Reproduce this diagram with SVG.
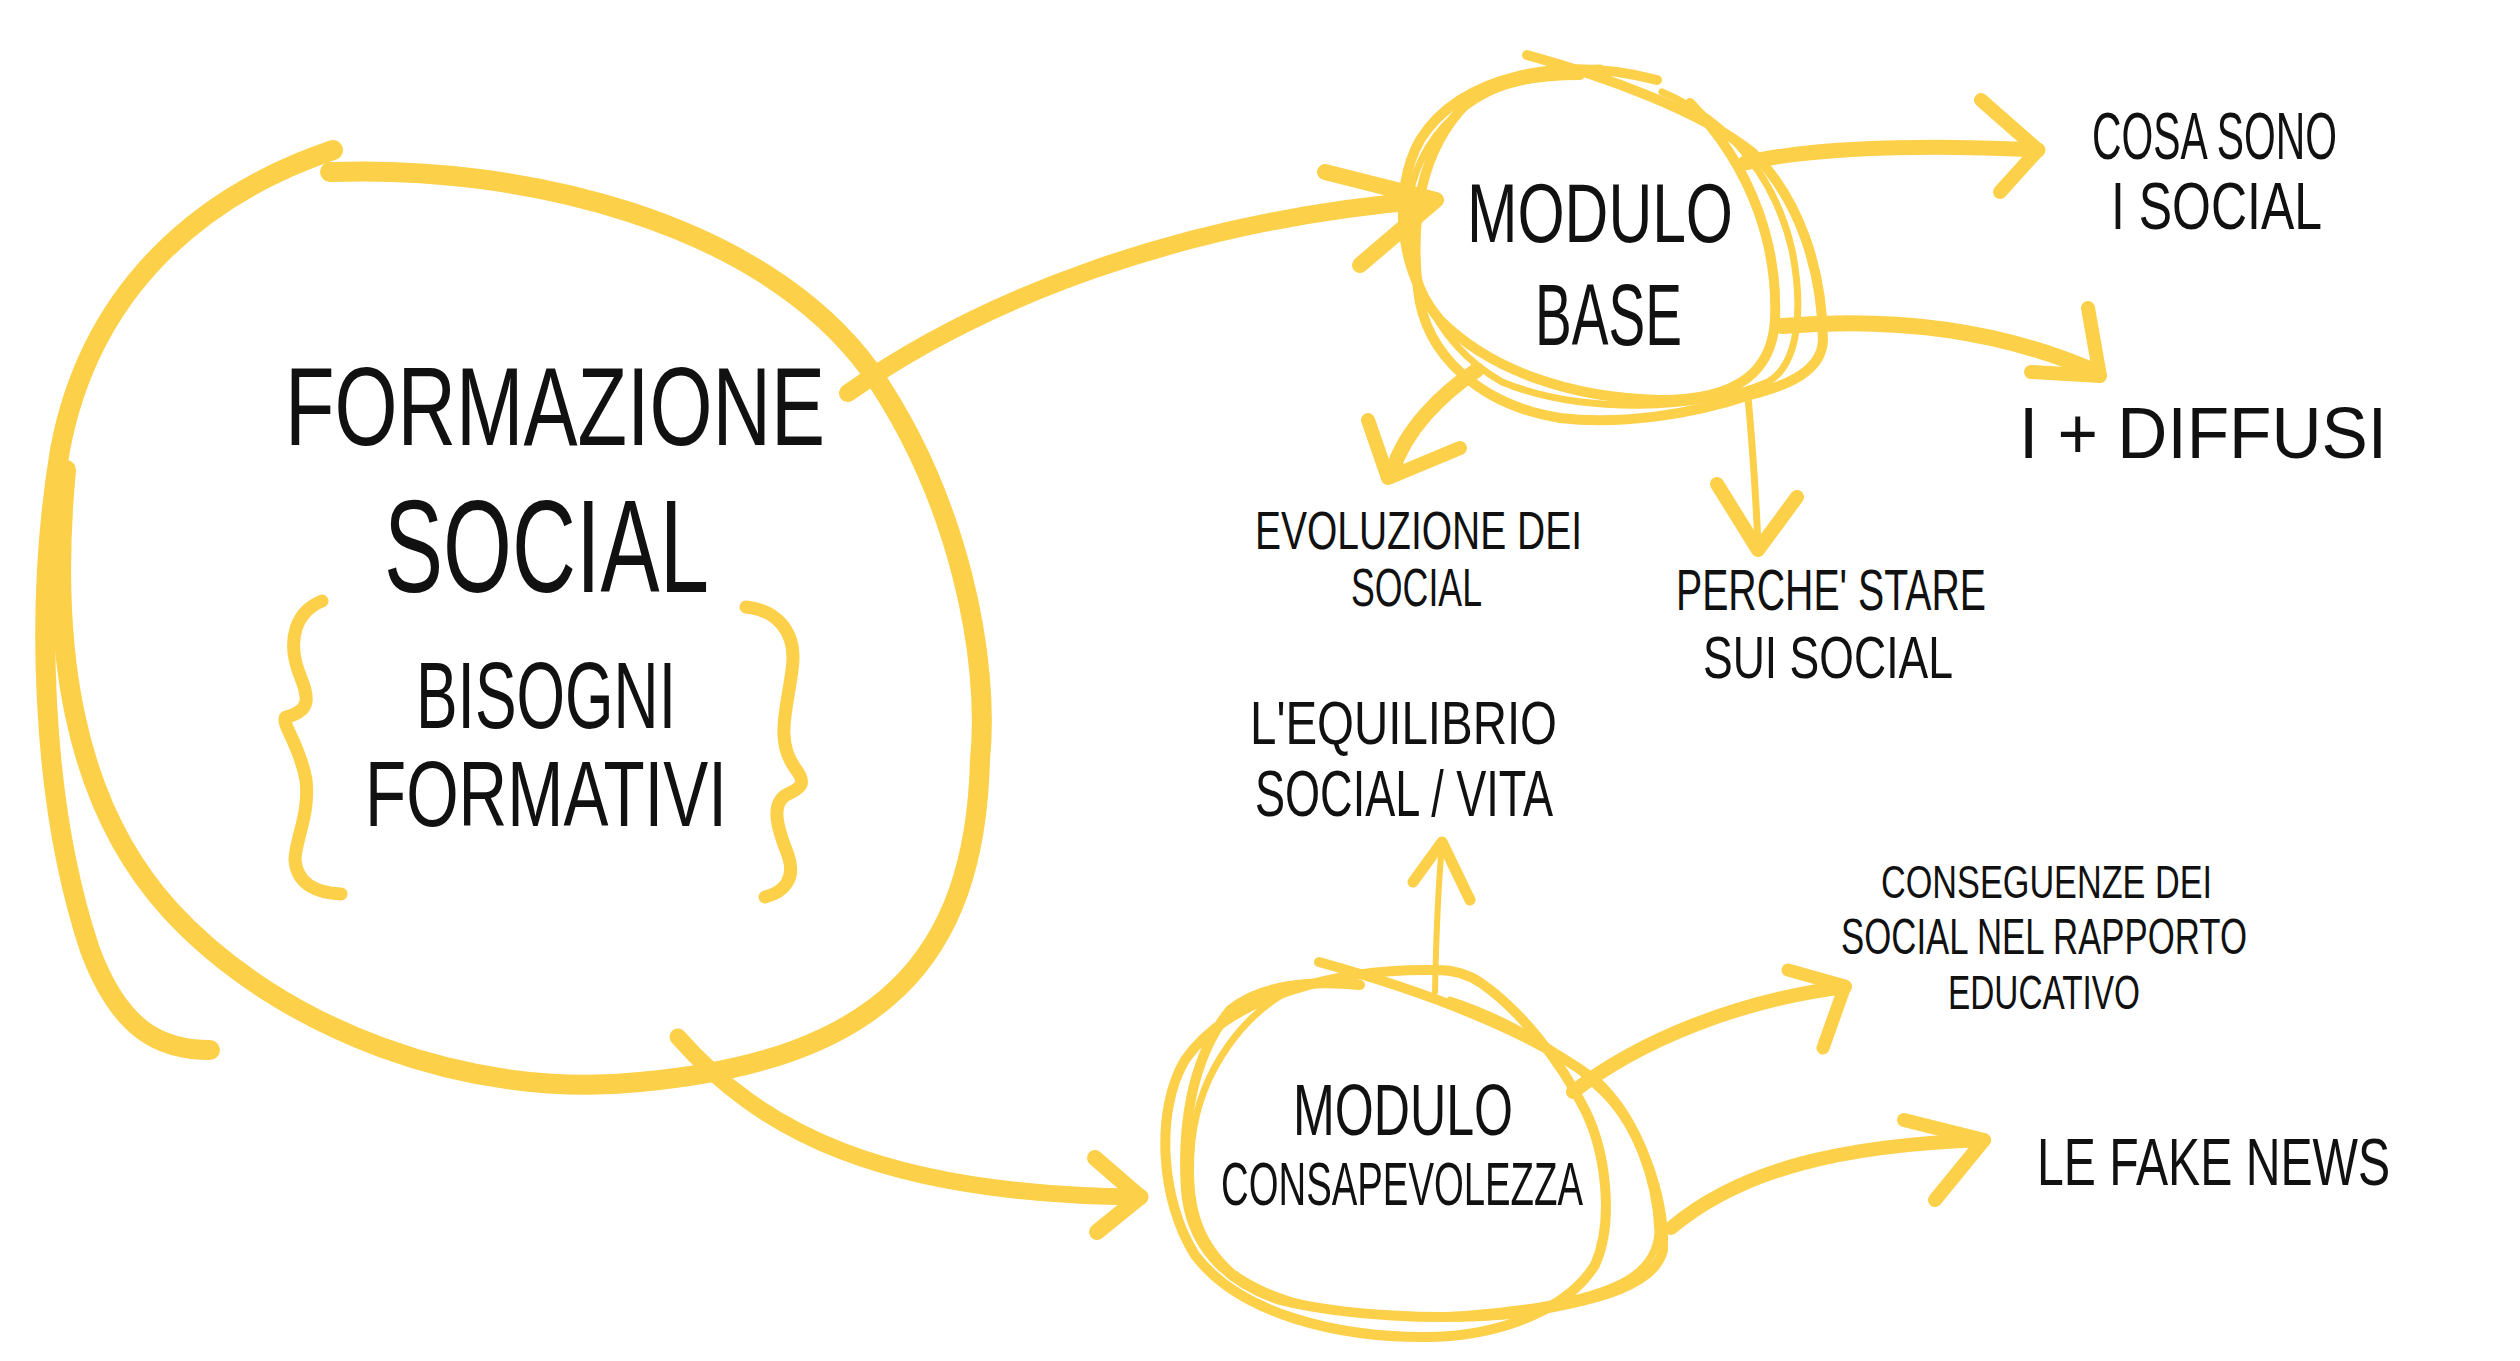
<svg xmlns="http://www.w3.org/2000/svg" width="2520" height="1361" viewBox="0 0 2520 1361">
<style>
.y{fill:none;stroke:#FCD049;stroke-linecap:round;stroke-linejoin:round}
.t{font-family:"Liberation Sans","DejaVu Sans",sans-serif;fill:#111;text-anchor:start}
</style>
<rect width="2520" height="1361" fill="#fff"/>
<g id="formazione-social">
<path class="y" stroke-width="20" d="M333 150 C200 195 90 290 60 450 C35 600 40 800 90 950 C120 1030 160 1050 210 1050"/>
<path class="y" stroke-width="20" d="M330 172 C520 165 760 220 870 370 C960 500 990 660 980 760 C975 960 880 1060 640 1082 C470 1100 280 1030 170 910 C70 800 50 640 66 470"/>
<path class="y" stroke-width="13" d="M322 601 C295 612 288 640 298 670 C306 692 316 710 286 717 C280 722 300 745 306 780 C310 815 295 840 295 860 C297 885 318 893 341 894"/>
<path class="y" stroke-width="13" d="M746 607 C775 610 798 630 792 670 C787 710 775 740 795 768 C808 785 800 788 786 795 C770 805 778 830 788 855 C796 878 785 892 765 897"/>
<text class="t" x="285" y="445" font-size="112" textLength="540" lengthAdjust="spacingAndGlyphs">FORMAZIONE</text>
<text class="t" x="384" y="592" font-size="132" textLength="325" lengthAdjust="spacingAndGlyphs">SOCIAL</text>
<text class="t" x="416" y="728" font-size="95" textLength="260" lengthAdjust="spacingAndGlyphs">BISOGNI</text>
<text class="t" x="365" y="826" font-size="93" textLength="362" lengthAdjust="spacingAndGlyphs">FORMATIVI</text>
</g>
<g id="modulo-base">
<path class="y" stroke-width="10" d="M1657 80 C1560 55 1460 75 1420 140 C1392 190 1398 270 1440 320 C1490 370 1570 398 1660 400 C1740 400 1772 370 1775 320 C1778 250 1755 170 1690 103"/>
<path class="y" stroke-width="10" d="M1527 55 C1600 75 1700 110 1753 153 C1800 200 1822 270 1823 340 C1822 370 1790 385 1750 395 C1690 415 1620 425 1560 418 C1480 405 1425 355 1418 290 C1410 220 1420 150 1467 103 C1500 80 1540 75 1580 75"/>
<path class="y" stroke-width="7" d="M1600 68 C1500 70 1432 112 1412 185 C1398 262 1432 342 1502 382 C1580 414 1700 412 1768 382 C1802 362 1802 300 1792 250 C1776 180 1732 122 1662 92"/>
<text class="t" x="1467" y="242" font-size="84" textLength="266" lengthAdjust="spacingAndGlyphs">MODULO</text>
<text class="t" x="1535" y="345" font-size="87" textLength="147" lengthAdjust="spacingAndGlyphs">BASE</text>
</g>
<g id="modulo-consapevolezza">
<path class="y" stroke-width="10" d="M1437 970 C1340 968 1230 995 1185 1060 C1155 1110 1160 1200 1195 1255 C1240 1315 1340 1338 1430 1337 C1510 1335 1570 1305 1595 1265 C1615 1220 1605 1150 1585 1110 C1560 1060 1520 1010 1481 983 C1465 972 1450 970 1437 970"/>
<path class="y" stroke-width="10" d="M1319 962 C1420 990 1530 1030 1595 1080 C1640 1120 1665 1200 1663 1250 C1655 1285 1600 1300 1520 1313 C1440 1322 1340 1315 1280 1300 C1220 1280 1190 1240 1186 1190 C1182 1130 1190 1060 1230 1010 C1260 985 1310 980 1360 985"/>
<path class="y" stroke-width="7" d="M1300 985 C1245 1010 1200 1070 1192 1140 C1186 1200 1196 1240 1232 1272 C1300 1322 1420 1324 1540 1306 C1620 1292 1656 1272 1658 1232 C1656 1180 1636 1122 1598 1088 C1560 1048 1500 1016 1450 1000"/>
<text class="t" x="1293" y="1135" font-size="73" textLength="220" lengthAdjust="spacingAndGlyphs">MODULO</text>
<text class="t" x="1221" y="1205" font-size="62" textLength="362" lengthAdjust="spacingAndGlyphs">CONSAPEVOLEZZA</text>
</g>
<g id="cosa-sono">
<text class="t" x="2092" y="159" font-size="67" textLength="245" lengthAdjust="spacingAndGlyphs">COSA SONO</text>
<text class="t" x="2111" y="229" font-size="66" textLength="211" lengthAdjust="spacingAndGlyphs">I SOCIAL</text>
</g>
<g id="i-diffusi">
<text class="t" x="2019" y="458" font-size="73" textLength="368" lengthAdjust="spacingAndGlyphs">I + DIFFUSI</text>
</g>
<g id="evoluzione">
<text class="t" x="1255" y="549" font-size="53" textLength="327" lengthAdjust="spacingAndGlyphs">EVOLUZIONE DEI</text>
<text class="t" x="1351" y="606" font-size="54" textLength="131" lengthAdjust="spacingAndGlyphs">SOCIAL</text>
</g>
<g id="perche">
<text class="t" x="1676" y="610" font-size="58" textLength="310" lengthAdjust="spacingAndGlyphs">PERCHE' STARE</text>
<text class="t" x="1703" y="678" font-size="60" textLength="250" lengthAdjust="spacingAndGlyphs">SUI SOCIAL</text>
</g>
<g id="equilibrio">
<text class="t" x="1250" y="744" font-size="62" textLength="307" lengthAdjust="spacingAndGlyphs">L'EQUILIBRIO</text>
<text class="t" x="1255" y="816" font-size="64" textLength="298" lengthAdjust="spacingAndGlyphs">SOCIAL / VITA</text>
</g>
<g id="conseguenze">
<text class="t" x="1881" y="898" font-size="47" textLength="331" lengthAdjust="spacingAndGlyphs">CONSEGUENZE DEI</text>
<text class="t" x="1841" y="954" font-size="50" textLength="406" lengthAdjust="spacingAndGlyphs">SOCIAL NEL RAPPORTO</text>
<text class="t" x="1948" y="1009" font-size="48" textLength="192" lengthAdjust="spacingAndGlyphs">EDUCATIVO</text>
</g>
<g id="fake-news">
<text class="t" x="2037" y="1185" font-size="66" textLength="353" lengthAdjust="spacingAndGlyphs">LE FAKE NEWS</text>
</g>
<g id="connectors">
<path class="y" stroke-width="18" d="M848 393 C980 300 1180 220 1430 200"/>
<path class="y" stroke-width="16" d="M1325 172 L1436 200 L1360 265"/>
<path class="y" stroke-width="17" d="M678 1037 C760 1130 880 1195 1140 1197"/>
<path class="y" stroke-width="16" d="M1095 1158 L1140 1197 L1097 1232"/>
<path class="y" stroke-width="15" d="M1745 163 C1800 150 1900 143 2038 150"/>
<path class="y" stroke-width="14" d="M1981 100 L2038 150 L2000 192"/>
<path class="y" stroke-width="16" d="M1782 326 C1880 318 1990 325 2096 372"/>
<path class="y" stroke-width="14" d="M2088 308 L2100 376 L2031 372"/>
<path class="y" stroke-width="15" d="M1477 370 C1440 395 1405 430 1392 472"/>
<path class="y" stroke-width="14" d="M1368 420 L1388 478 L1460 448"/>
<path class="y" stroke-width="7" d="M1748 397 C1752 440 1756 500 1758 545"/>
<path class="y" stroke-width="14" d="M1717 484 L1758 550 L1797 497"/>
<path class="y" stroke-width="6" d="M1435 992 C1436 940 1438 890 1442 843"/>
<path class="y" stroke-width="11" d="M1413 882 L1442 842 L1470 900"/>
<path class="y" stroke-width="14" d="M1573 1092 C1640 1040 1740 1000 1845 987"/>
<path class="y" stroke-width="13" d="M1788 970 L1845 986 L1823 1048"/>
<path class="y" stroke-width="14" d="M1671 1228 C1740 1170 1840 1145 1984 1140"/>
<path class="y" stroke-width="14" d="M1904 1120 L1984 1140 L1935 1200"/>
</g>
</svg>
